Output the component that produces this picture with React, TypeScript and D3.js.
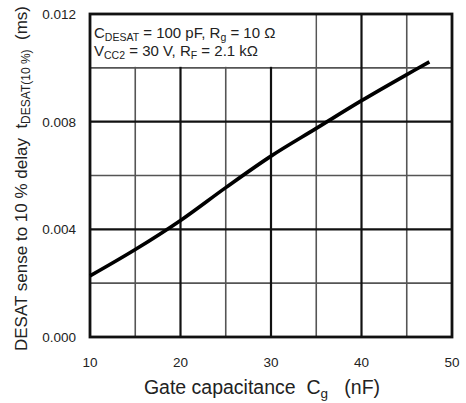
import React from "react";
import * as d3 from "d3";

const capacitance = [10, 15, 20, 25, 30, 35, 40, 45, 47.5];
const delay = [0.00227, 0.00325, 0.00433, 0.00555, 0.00672, 0.00775, 0.00878, 0.00975, 0.01022];
const xTicks = [10, 20, 30, 40, 50];
const xMinor = [15, 25, 35, 45];
const yTicks = [0, 0.004, 0.008, 0.012];
const yMinor = [0.002, 0.006, 0.01];
const yTickLabels = ["0.000", "0.004", "0.008", "0.012"];

const W = 466, H = 403;
const L = 90, R = 452, T = 14, B = 337;
const SP = "\u00A0";

export default function App() {
  const x = d3.scaleLinear().domain([10, 50]).range([L, R]);
  const y = d3.scaleLinear().domain([0, 0.012]).range([B, T]);
  const line = d3
    .line<number>()
    .x((_, i) => x(capacitance[i]))
    .y((d) => y(d))
    .curve(d3.curveCatmullRom.alpha(0.5));
  const font = "'Liberation Sans', Arial, sans-serif";
  const txt = "#222";
  return (
    <svg width={W} height={H} style={{ position: "absolute", left: 0, top: 0 }} fontFamily={font}>
      <rect x={0} y={0} width={W} height={H} fill="#fff" />
      {xMinor.map((v) => (
        <line key={"xm" + v} x1={x(v)} x2={x(v)} y1={T} y2={B} stroke="#555" strokeWidth={1.6} />
      ))}
      {yMinor.map((v) => (
        <line key={"ym" + v} x1={L} x2={R} y1={y(v)} y2={y(v)} stroke="#555" strokeWidth={1.6} />
      ))}
      {xTicks.slice(1, -1).map((v) => (
        <line key={"xM" + v} x1={x(v)} x2={x(v)} y1={T} y2={B} stroke="#111" strokeWidth={2.2} />
      ))}
      {yTicks.slice(1, -1).map((v) => (
        <line key={"yM" + v} x1={L} x2={R} y1={y(v)} y2={y(v)} stroke="#111" strokeWidth={2.2} />
      ))}
      <rect x={x(10) + 1} y={y(0.012) + 1} width={x(35) - x(10) - 2} height={y(0.01) - y(0.012) - 2} fill="#fff" />
      <rect x={L} y={T} width={R - L} height={B - T} fill="none" stroke="#111" strokeWidth={2.8} />
      <path d={line(delay) || ""} fill="none" stroke="#000" strokeWidth={3.6} strokeLinecap="butt" />
      <g fontSize={15} fill={txt}>
        <text x={94} y={38}>
          C<tspan fontSize={10.5} dy={3}>DESAT</tspan>
          <tspan dy={-3}>{" = 100 pF, R"}</tspan>
          <tspan fontSize={10.5} dy={3}>g</tspan>
          <tspan dy={-3}>{" = 10 Ω"}</tspan>
        </text>
        <text x={94} y={56}>
          V<tspan fontSize={10.5} dy={3}>CC2</tspan>
          <tspan dy={-3}>{" = 30 V, R"}</tspan>
          <tspan fontSize={10.5} dy={3}>F</tspan>
          <tspan dy={-3}>{" = 2.1 kΩ"}</tspan>
        </text>
      </g>
      {yTicks.map((v, i) => (
        <text key={"yl" + v} x={76} y={y(v) + 5} textAnchor="end" fontSize={13.5} fill={txt}>
          {yTickLabels[i]}
        </text>
      ))}
      {xTicks.map((v) => (
        <text key={"xl" + v} x={x(v)} y={367} textAnchor="middle" fontSize={13.5} fill={txt}>
          {v}
        </text>
      ))}
      <text x={262} y={394} textAnchor="middle" fontSize={19.5} fill={txt}>
        {`Gate capacitance ${SP}C`}
        <tspan fontSize={13.5} dy={4}>g</tspan>
        <tspan dy={-4}>{`${SP} ${SP}(nF)`}</tspan>
      </text>
      <text transform={`translate(27,${(T + B) / 2 + 3}) rotate(-90)`} textAnchor="middle" fontSize={17} fill={txt}>
        {`DESAT sense to 10 % delay ${SP}t`}
        <tspan fontSize={12} dy={3}>DESAT(10 %)</tspan>
        <tspan dy={-3}>{`${SP} (ms)`}</tspan>
      </text>
    </svg>
  );
}
